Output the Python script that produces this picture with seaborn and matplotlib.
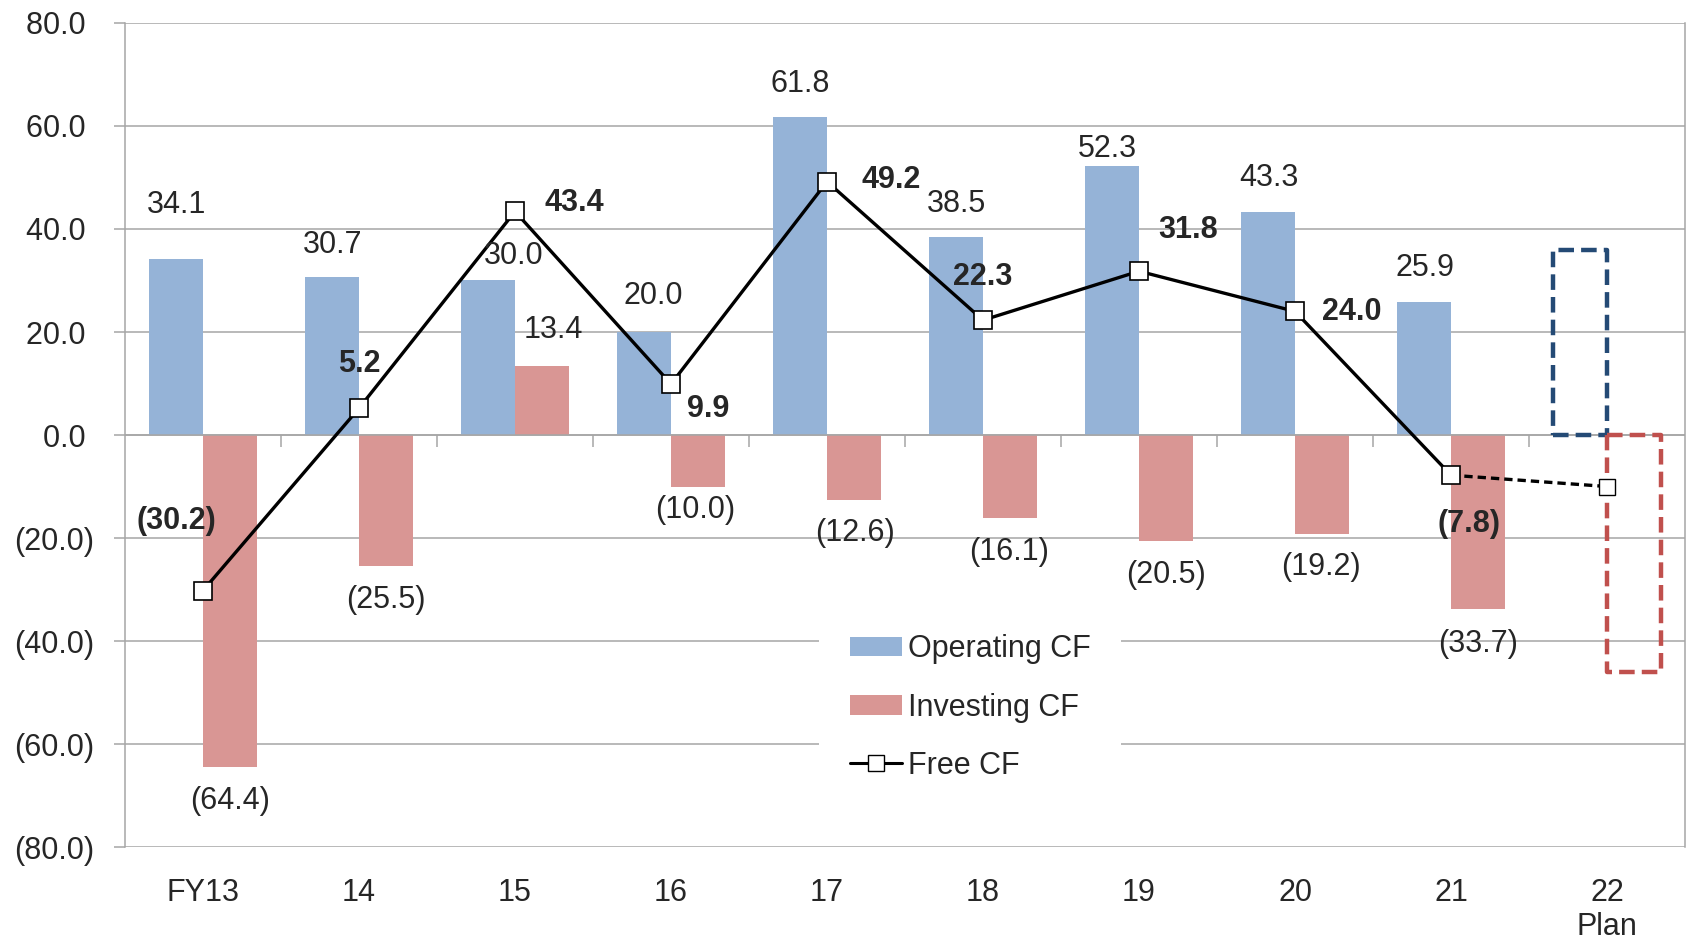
import numpy as np
import pandas as pd
import matplotlib.pyplot as plt
import seaborn as sns
from matplotlib.patches import Patch
from matplotlib.lines import Line2D

years = ['FY13', '14', '15', '16', '17', '18', '19', '20', '21', '22\nPlan']
operating = [34.1, 30.7, 30.0, 20.0, 61.8, 38.5, 52.3, 43.3, 25.9, 36.0]
investing = [-64.4, -25.5, 13.4, -10.0, -12.6, -16.1, -20.5, -19.2, -33.7, -46.0]
free_cf = [-30.2, 5.2, 43.4, 9.9, 49.2, 22.3, 31.8, 24.0, -7.8, -10.0]
yticks = [80, 60, 40, 20, 0, -20, -40, -60, -80]

# label placement (offset from category / value)
op_dx = [-0.17, -0.17, -0.01, -0.115, -0.17, -0.17, -0.205, -0.17, -0.17]
op_dy = [10.6, 6.2, 4.8, 7.0, 6.4, 6.4, 3.2, 6.6, 6.5]
inv_dx = [0.173, 0.173, 0.244, 0.154, 0.18, 0.167, 0.173, 0.167, 0.173]
inv_dy = [-6.7, -6.5, 7.0, -4.6, -6.4, -6.6, -6.7, -6.4, -6.9]
fcf_dx = [-0.173, 0.0, 0.378, 0.237, 0.41, 0.0, 0.314, 0.365, 0.115]
fcf_dy = [13.5, 8.6, 1.6, -4.9, 0.3, 8.4, 8.0, -0.1, -9.5]

def fmt(v):
    return f'({abs(v):.1f})' if v < 0 else f'{v:.1f}'

sns.set_style('white')
plt.rcParams['font.family'] = ['Liberation Sans', 'DejaVu Sans']
FS = 22
GRID = '#a6a6a6'
OP_C = '#95b3d7'
INV_C = '#d99694'

df = pd.DataFrame({
    'year': years * 2,
    'type': ['Operating CF'] * len(years) + ['Investing CF'] * len(years),
    'value': operating + investing,
})

fig = plt.figure(figsize=(16.94, 9.5), dpi=100)
ax = fig.add_axes([0.0738, 0.1084, 0.9209, 0.8674])

sns.barplot(data=df, x='year', y='value', hue='type', order=years,
            hue_order=['Operating CF', 'Investing CF'],
            palette=[OP_C, INV_C], width=0.69, gap=0, saturation=1,
            errorbar=None, linewidth=0, legend=False, ax=ax)

# plan bars: dashed outline only
n = len(years)
for cont, ec in zip(ax.containers, ['#244a75', '#c0504d']):
    p = cont.patches[n - 1]
    p.set_facecolor('none')
    p.set_edgecolor(ec)
    p.set_linewidth(3.2)
    p.set_linestyle((0, (3.5, 1.6)))
    p.set_joinstyle('round')
    p.set_zorder(3)

xs = np.arange(n)
ax.plot(xs[:-1], free_cf[:-1], color='black', lw=2.4, marker='s', ms=13,
        mfc='white', mec='black', mew=1.2, zorder=5)
ax.plot(xs[-2:], free_cf[-2:], color='black', lw=2.4, ls=(0, (2.5, 1.5)), zorder=4)
ax.plot(xs[-1:], free_cf[-1:], ls='none', marker='s', ms=11, mfc='white',
        mec='black', mew=1.0, zorder=5)

for i in range(n - 1):
    ax.text(i + op_dx[i], operating[i] + op_dy[i], fmt(operating[i]),
            ha='center', va='center', fontsize=FS, zorder=6)
    ax.text(i + inv_dx[i], investing[i] + inv_dy[i], fmt(investing[i]),
            ha='center', va='center', fontsize=FS, zorder=6)
    ax.text(i + fcf_dx[i], free_cf[i] + fcf_dy[i], fmt(free_cf[i]),
            ha='center', va='center', fontsize=FS, fontweight='bold', zorder=6)

ax.set_xlim(-0.5, n - 0.5)
ax.set_ylim(-80, 80)
ax.set_yticks(yticks)
ax.set_yticklabels([fmt(v) + (' ' if v >= 0 else '') for v in yticks])
ax.grid(axis='y', color=GRID, lw=1.1)
ax.set_axisbelow(True)
ax.axhline(0, color=GRID, lw=1.1, zorder=2)
ax.vlines(np.arange(n - 1) + 0.5, -2.3, 0, color=GRID, lw=1.1, zorder=2)
ax.tick_params(axis='y', length=8, width=1.1, color=GRID, pad=14, labelsize=FS, left=True)
ax.tick_params(axis='x', length=0, pad=22, labelsize=FS)
ax.set_xlabel('')
ax.set_ylabel('')
for s in ['top', 'bottom']:
    ax.spines[s].set_visible(False)
for s in ['left', 'right']:
    ax.spines[s].set_color(GRID)
    ax.spines[s].set_linewidth(1.1)

handles = [
    Patch(facecolor=OP_C, edgecolor='none', label='Operating CF'),
    Patch(facecolor=INV_C, edgecolor='none', label='Investing CF'),
    Line2D([], [], color='black', lw=2.2, marker='s', ms=11, mfc='white',
           mec='black', mew=1.0, label='Free CF'),
]
leg = ax.legend(handles=handles, loc='upper left', bbox_to_anchor=(0.445, 0.295),
                frameon=True, fontsize=FS, handlelength=1.7, handleheight=0.6,
                handletextpad=0.2, labelspacing=0.92, borderpad=1.0,
                borderaxespad=0)
leg.get_frame().set_facecolor('white')
leg.get_frame().set_edgecolor('none')
leg.get_frame().set_alpha(1)
leg.set_zorder(7)

fig.savefig('out.png', dpi=100)
